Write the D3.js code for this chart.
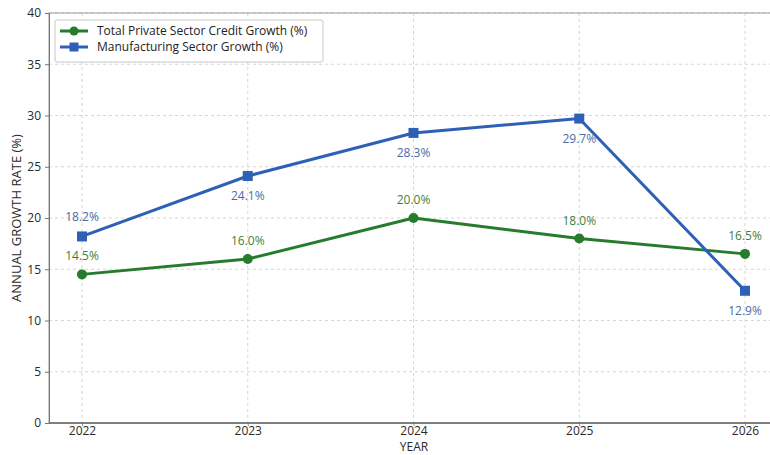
<!DOCTYPE html>
<html>
<head>
<meta charset="utf-8">
<script src="https://cdn.jsdelivr.net/npm/d3@7"></script>
<style>
  html, body { margin: 0; padding: 0; background: #fff; }
  svg { display: block; font-family: "Open Sans", Roboto, sans-serif; }
</style>
</head>
<body>
<svg id="chart" width="770" height="455"></svg>
<script>
const years = [2022, 2023, 2024, 2025, 2026];
const creditGrowth = [14.5, 16.0, 20.0, 18.0, 16.5];
const manufacturingGrowth = [18.2, 24.1, 28.3, 29.7, 12.9];
const yTicks = [0, 5, 10, 15, 20, 25, 30, 35, 40];
const seriesNames = ["Total Private Sector Credit Growth (%)", "Manufacturing Sector Growth (%)"];

const svg = d3.select("#chart");
const plotLeft = 49, plotTop = 13, plotBottom = 423, plotRight = 795;

const x = d3.scaleLinear().domain([2022, 2026]).range([82, 745]);
const y = d3.scaleLinear().domain([0, 40]).range([plotBottom, plotTop]);

const green = "#267b2c", blue = "#2e61b6";
const greenText = "#3f7f3a", blueText = "#4d6aa6";

// grid
const grid = svg.append("g");
grid.selectAll(".gy").data(yTicks.slice(1)).join("line")
  .attr("x1", plotLeft).attr("x2", plotRight)
  .attr("y1", d => y(d)).attr("y2", d => y(d))
  .attr("stroke", "#d6d6d6").attr("stroke-dasharray", "3,3").attr("stroke-width", 1);
grid.selectAll(".gx").data(years).join("line")
  .attr("x1", d => x(d)).attr("x2", d => x(d))
  .attr("y1", plotTop).attr("y2", plotBottom)
  .attr("stroke", "#d6d6d6").attr("stroke-dasharray", "3,3").attr("stroke-width", 1);

// frame
svg.append("rect").attr("x", plotLeft).attr("y", plotTop)
  .attr("width", plotRight - plotLeft).attr("height", plotBottom - plotTop)
  .attr("fill", "none").attr("stroke", "#9a9a9a").attr("stroke-width", 1);

// axes
const yAxis = svg.append("g").attr("transform", `translate(${plotLeft},0)`)
  .call(d3.axisLeft(y).tickValues(yTicks).tickSize(4).tickPadding(4));
yAxis.select(".domain").attr("stroke", "#777");
yAxis.selectAll(".tick line").attr("stroke", "#777");
yAxis.selectAll("text").attr("font-size", 12).attr("fill", "#2a2a2a").attr("font-family", "Open Sans, sans-serif");

const xAxis = svg.append("g").attr("transform", `translate(0,${plotBottom})`)
  .call(d3.axisBottom(x).tickValues(years).tickFormat(d3.format("d")).tickSize(3).tickPadding(0));
xAxis.select(".domain").remove();
xAxis.selectAll(".tick line").attr("stroke", "#999");
xAxis.selectAll("text").attr("font-size", 12).attr("fill", "#2a2a2a").attr("font-family", "Open Sans, sans-serif");
svg.append("line").attr("x1", plotLeft).attr("x2", plotRight).attr("y1", plotBottom).attr("y2", plotBottom)
  .attr("stroke", "#666").attr("stroke-width", 1.5);

svg.append("text").attr("x", 414).attr("y", 451).attr("text-anchor", "middle")
  .attr("font-size", 12).attr("fill", "#2a2a2a").text("YEAR");
svg.append("text").attr("transform", "translate(21,218) rotate(-90)").attr("text-anchor", "middle")
  .attr("font-size", 13).attr("fill", "#2a2a2a").text("ANNUAL GROWTH RATE (%)");

// lines
const line = d3.line().x((d, i) => x(years[i])).y(d => y(d));
svg.append("path").datum(creditGrowth).attr("d", line)
  .attr("fill", "none").attr("stroke", green).attr("stroke-width", 3).attr("stroke-linejoin", "round");
svg.append("path").datum(manufacturingGrowth).attr("d", line)
  .attr("fill", "none").attr("stroke", blue).attr("stroke-width", 3).attr("stroke-linejoin", "round");

svg.selectAll(".cpt").data(creditGrowth).join("circle")
  .attr("cx", (d, i) => x(years[i])).attr("cy", d => y(d)).attr("r", 5).attr("fill", green);
svg.selectAll(".mpt").data(manufacturingGrowth).join("rect")
  .attr("x", (d, i) => x(years[i]) - 5).attr("y", d => y(d) - 5)
  .attr("width", 10).attr("height", 10).attr("fill", blue);

// value labels
svg.selectAll(".clab").data(creditGrowth).join("text")
  .attr("x", (d, i) => x(years[i])).attr("y", d => y(d) - 14)
  .attr("text-anchor", "middle").attr("font-size", 12).attr("fill", greenText)
  .text(d => d.toFixed(1) + "%");
svg.selectAll(".mlab").data(manufacturingGrowth).join("text")
  .attr("x", (d, i) => x(years[i])).attr("y", (d, i) => i === 0 ? y(d) - 15 : y(d) + 24)
  .attr("text-anchor", "middle").attr("font-size", 12).attr("fill", blueText)
  .text(d => d.toFixed(1) + "%");

// legend
const lg = svg.append("g");
lg.append("rect").attr("x", 55).attr("y", 20).attr("width", 268).attr("height", 42).attr("rx", 2)
  .attr("fill", "#fff").attr("stroke", "#c8c8c8");
[[green, "circle"], [blue, "square"]].forEach(([c, shape], i) => {
  const cy = 31 + i * 16;
  lg.append("line").attr("x1", 60).attr("x2", 88).attr("y1", cy).attr("y2", cy)
    .attr("stroke", c).attr("stroke-width", 3);
  if (shape === "circle") lg.append("circle").attr("cx", 74).attr("cy", cy).attr("r", 4.5).attr("fill", c);
  else lg.append("rect").attr("x", 69.5).attr("y", cy - 4.5).attr("width", 9).attr("height", 9).attr("fill", c);
  lg.append("text").attr("x", 97).attr("y", cy + 4).attr("font-size", 12).attr("fill", "#222")
    .text(seriesNames[i]);
});
</script>
</body>
</html>
